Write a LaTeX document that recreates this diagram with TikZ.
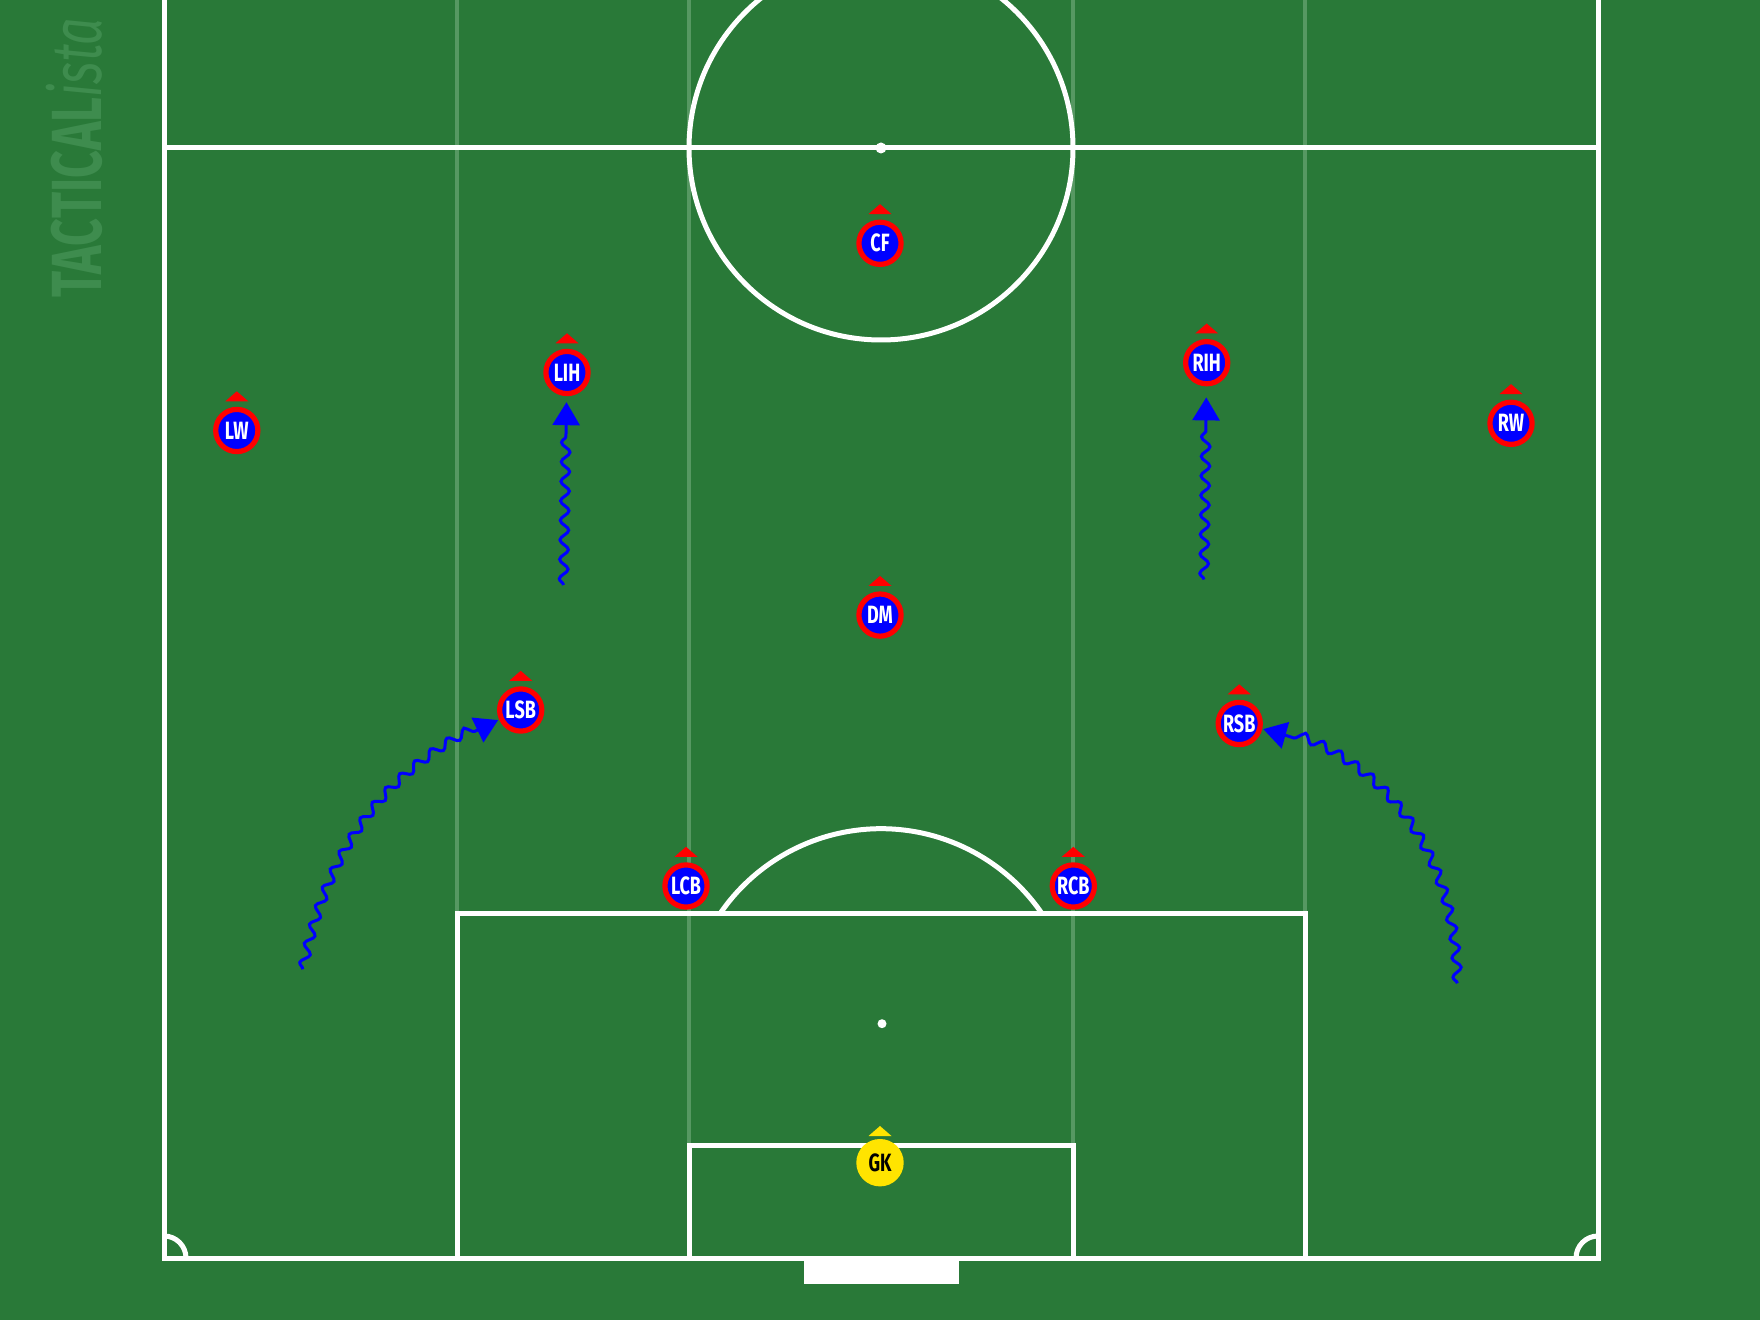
\documentclass[tikz,border=0pt]{standalone}
\usepackage{fontspec}
\usetikzlibrary{decorations.pathmorphing,arrows.meta}
\newfontfamily\pfont[FakeStretch=0.72]{Fira Sans}
\newfontfamily\wmfont[FakeStretch=0.68]{Fira Sans}
\definecolor{pitch}{RGB}{41,121,56}
\definecolor{chan}{RGB}{86,152,98}
\definecolor{wmcol}{RGB}{62,140,78}
\definecolor{pblue}{RGB}{0,0,255}
\definecolor{pred}{RGB}{255,0,0}
\definecolor{gky}{RGB}{255,228,0}
\begin{document}
\begin{tikzpicture}[x=1pt,y=1pt,
  pline/.style={draw=white, line width=5pt},
  chanline/.style={draw=chan, line width=4pt},
  player/.style={circle, draw=pred, fill=pblue, line width=5.2pt, minimum size=42.2pt, inner sep=0pt, text=white,
    font=\pfont\bfseries\fontsize{25}{25}\selectfont},
  keeper/.style={player, draw=gky, fill=gky, text=black},
  wmark/.style={text=wmcol, inner sep=0pt, font=\wmfont\fontsize{71}{71}\selectfont},
  wavy/.style={draw=pblue, line width=3pt, decorate,
    decoration={snake, amplitude=4.3pt, segment length=19.5pt, post length=#1},
    -{Triangle[width=27pt,length=23pt]}},
  wavy/.default=27pt
]
\useasboundingbox (0,0) rectangle (1760,1320);
\fill[pitch] (0,0) rectangle (1760,1320);
\clip (0,0) rectangle (1760,1320);
% faint channel lines
\foreach \x in {457,689,1073,1305}
  \draw[chanline] (\x,62) -- (\x,1320);
% pitch markings
\draw[pline] (164,1320) -- (164,62) -- (1598,62) -- (1598,1320);
\draw[pline] (164,1172) -- (1598,1172);
\draw[pline] (881,1172) circle[radius=192];
\fill[white] (881,1172) circle[radius=5.5];
\draw[pline] (457,62) -- (457,406) -- (1305,406) -- (1305,62);
\draw[pline] (689,62) -- (689,175) -- (1073,175) -- (1073,62);
\fill[white] (882,296.3) circle[radius=4.5];
\draw[pline] (1042.1,406.2) arc[start angle=34.3, end angle=145.7, radius=195];
\draw[pline] (186,62) arc[start angle=0, end angle=90, radius=22];
\draw[pline] (1598,84) arc[start angle=90, end angle=180, radius=22];
\fill[white] (803.5,36) rectangle (958.5,62);
% watermark
\node[wmark, rotate=90, anchor=base west] (wm) at (101.7,1022) {{\bfseries TACTICAL}{\itshape ista}};
% players
\node[player] (cf)  at (880,1076.7) {CF};
\node[player] (lih) at (567,947.5) {LIH};
\node[player] (rih) at (1206.7,957.3) {RIH};
\node[player] (lw)  at (236.8,889.5) {LW};
\node[player] (rw)  at (1511,896.7) {RW};
\node[player] (dm)  at (880,704.9) {DM};
\node[player] (lsb) at (520.7,610) {LSB};
\node[player] (rsb) at (1239.2,596.5) {RSB};
\node[player] (lcb) at (686,434) {LCB};
\node[player] (rcb) at (1073.3,434) {RCB};
\node[keeper] (gk)  at (880,157.3) {GK};
\foreach \n in {cf,lih,rih,lw,rw,dm,lsb,rsb,lcb,rcb}
  \fill[pred] ([shift={(-11.5pt,5.5pt)}]\n.north) -- ++(23pt,0pt) -- ++(-11.5pt,10pt) -- cycle;
\fill[gky] ([shift={(-11.5pt,3pt)}]gk.north) -- ++(23pt,0pt) -- ++(-11.5pt,10pt) -- cycle;
% runs
\coordinate (lihs) at (563.5,735);
\coordinate (rihs) at (1204,740.5);
\coordinate (lsbs) at (302.7,350.7);
\coordinate (rsbs) at (1457.3,336.7);
\draw[wavy=31pt, shorten >=6pt] (lihs) -- (lih);
\draw[wavy=36pt, shorten >=11pt] (rihs) -- (rih);
\draw[wavy=27pt, shorten >=1pt] (lsbs) to[out=78, in=204] (lsb);
\draw[wavy=27pt, shorten >=1pt] (rsbs) to[out=91, in=347] (rsb);
\end{tikzpicture}
\end{document}
